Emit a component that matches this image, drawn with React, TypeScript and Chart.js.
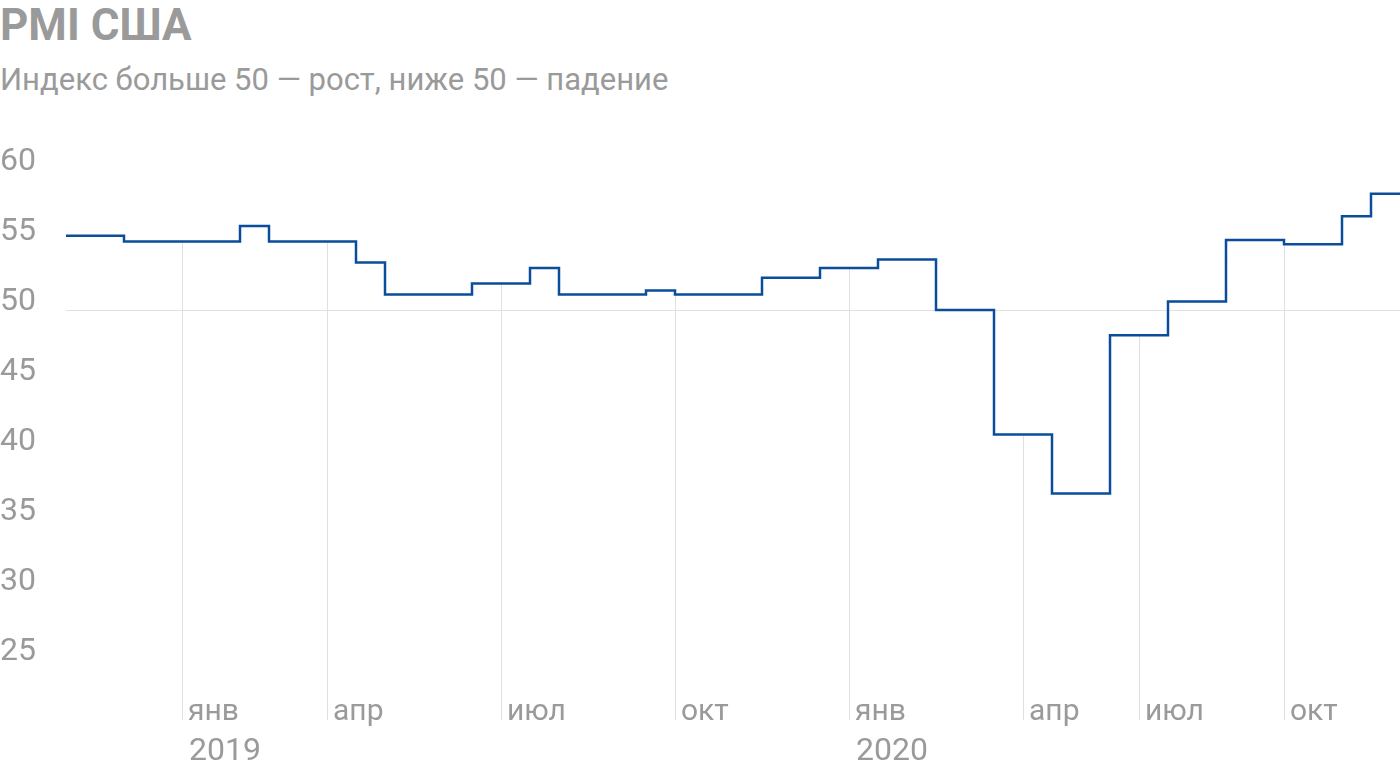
import React, { useEffect, useRef } from "react";
import { Chart, registerables } from "chart.js";

Chart.register(...registerables);

// 47 equally spaced positions on the category axis
const monthLabels = [
  "", "", "", "", "янв", "", "", "", "", "апр",
  "", "", "", "", "", "июл", "", "", "", "",
  "", "окт", "", "", "", "", "", "янв", "", "",
  "", "", "", "апр", "", "", "", "июл", "", "",
  "", "", "окт", "", "", "", "",
];

const yearLabels = [
  "", "", "", "", "2019", "", "", "", "", "",
  "", "", "", "", "", "", "", "", "", "",
  "", "", "", "", "", "", "", "2020", "", "",
  "", "", "", "", "", "", "", "", "", "",
  "", "", "", "", "", "", "",
];

const pmiValues = [
  55.3, 55.3, 54.9, 54.9, 54.9, 54.9, 56.0, 54.9, 54.9, 54.9,
  53.4, 51.1, 51.1, 51.1, 51.9, 51.9, 53.0, 51.1, 51.1, 51.1,
  51.4, 51.1, 51.1, 51.1, 52.3, 52.3, 53.0, 53.0, 53.6, 53.6,
  50.0, 50.0, 41.1, 41.1, 36.9, 36.9, 48.2, 48.2, 50.6, 50.6,
  55.0, 55.0, 54.7, 54.7, 56.7, 58.3, 58.3,
];

const yTickValues = [25, 30, 35, 40, 45, 50, 55, 60];
const referenceLevel = 50;

const TEXT = "#9a9a9a";
const GRID = "#e0e0e0";
const LINE = "#0a4e9b";
const FONT = "Roboto, 'Noto Sans', sans-serif";

const overlayPlugin = {
  id: "overlay",
  beforeDatasetsDraw(chart: any) {
    const { ctx, chartArea, scales } = chart;
    const x = scales.x;
    const y = scales.y;
    const gridBottom = chartArea.bottom - 10;
    ctx.save();
    ctx.strokeStyle = GRID;
    ctx.lineWidth = 1;
    ctx.beginPath();
    const yRef = Math.round(y.getPixelForValue(referenceLevel)) + 0.5;
    ctx.moveTo(chartArea.left, yRef);
    ctx.lineTo(chartArea.right, yRef);
    monthLabels.forEach((lab, i) => {
      if (!lab) return;
      const px = Math.round(x.getPixelForValue(i)) + 0.5;
      const py = y.getPixelForValue(pmiValues[i]);
      ctx.moveTo(px, py);
      ctx.lineTo(px, gridBottom);
    });
    ctx.stroke();

    ctx.fillStyle = TEXT;
    ctx.textAlign = "left";
    ctx.textBaseline = "alphabetic";
    ctx.font = `32px ${FONT}`;
    yTickValues.forEach((v) => {
      ctx.fillText(String(v), 0, y.getPixelForValue(v));
    });
    yearLabels.forEach((lab, i) => {
      if (!lab) return;
      const px = Math.round(x.getPixelForValue(i));
      ctx.fillText(lab, px + 7, gridBottom + 40);
    });
    ctx.font = `30px ${FONT}`;
    monthLabels.forEach((lab, i) => {
      if (!lab) return;
      const px = Math.round(x.getPixelForValue(i));
      ctx.fillText(lab, px + 6, gridBottom);
    });
    ctx.restore();
  },
};

export default function App() {
  const canvasRef = useRef<HTMLCanvasElement | null>(null);

  useEffect(() => {
    const canvas = canvasRef.current;
    if (!canvas) return;
    const chart = new Chart(canvas, {
      type: "line",
      data: {
        labels: monthLabels.map((m, i) => m || String(i)),
        datasets: [
          {
            data: pmiValues,
            borderColor: LINE,
            borderWidth: 2.5,
            pointRadius: 0,
            stepped: "before",
            fill: false,
            tension: 0,
          },
        ],
      },
      options: {
        responsive: false,
        animation: false,
        devicePixelRatio: 1,
        layout: { padding: { left: 66, right: 0, top: 170, bottom: 42 } },
        plugins: {
          legend: { display: false },
          tooltip: { enabled: false },
          title: { display: false },
        },
        scales: {
          x: { type: "category", display: false, offset: false },
          y: { type: "linear", display: false, min: 20, max: 60 },
        },
      },
      plugins: [overlayPlugin],
    });
    return () => chart.destroy();
  }, []);

  return (
    <div style={{ position: "absolute", left: 0, top: 0, width: 1400, height: 772, background: "#fff", fontFamily: FONT }}>
      <div
        style={{
          position: "absolute",
          left: 0,
          top: 3,
          fontSize: 44,
          lineHeight: "44px",
          fontWeight: 700,
          color: TEXT,
          whiteSpace: "nowrap",
        }}
      >
        PMI США
      </div>
      <div
        style={{
          position: "absolute",
          left: 0,
          top: 62,
          fontSize: 31,
          lineHeight: "36px",
          color: TEXT,
          whiteSpace: "nowrap",
        }}
      >
        Индекс больше 50 — рост, ниже 50 — падение
      </div>
      <canvas
        ref={canvasRef}
        width={1400}
        height={772}
        style={{ position: "absolute", left: 0, top: 0, width: 1400, height: 772 }}
      />
    </div>
  );
}
